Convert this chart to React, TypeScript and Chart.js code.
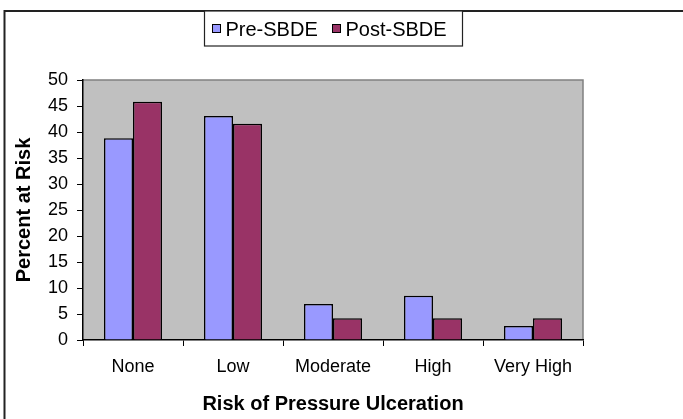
import React, { useEffect, useRef } from "react";
import { Chart, registerables } from "chart.js";

Chart.register(...registerables);

const categories = ["None", "Low", "Moderate", "High", "Very High"];
const preSBDE = [38.8, 43.1, 6.9, 8.5, 2.7];
const postSBDE = [45.8, 41.6, 4.2, 4.2, 4.2];
const seriesNames = ["Pre-SBDE", "Post-SBDE"];
const seriesColors = ["#9999FF", "#993366"];
const yTitle = "Percent at Risk";
const xTitle = "Risk of Pressure Ulceration";
const FONT = "'Liberation Sans', Arial, sans-serif";

const plotBgPlugin = {
  id: "plotBg",
  beforeDraw(chart: any) {
    const { ctx, chartArea } = chart;
    const { left, top, right, bottom } = chartArea;
    ctx.save();
    ctx.fillStyle = "#C0C0C0";
    ctx.fillRect(left, top, right - left, bottom - top);
    ctx.strokeStyle = "#808080";
    ctx.lineWidth = 1.5;
    ctx.beginPath();
    ctx.moveTo(left, top);
    ctx.lineTo(right, top);
    ctx.lineTo(right, bottom);
    ctx.stroke();
    ctx.restore();
  },
};

const frameLegendPlugin = {
  id: "frameLegend",
  afterDraw(chart: any) {
    const { ctx, width, height } = chart;
    ctx.save();
    // outer frame
    ctx.strokeStyle = "#222";
    ctx.lineWidth = 2;
    ctx.beginPath();
    ctx.moveTo(4.5, height + 2);
    ctx.lineTo(4.5, 11);
    ctx.lineTo(width + 2, 11);
    ctx.stroke();
    // legend box
    const bx = 204.5, by = 11, bw = 258, bh = 35;
    ctx.fillStyle = "#fff";
    ctx.fillRect(bx, by, bw, bh);
    ctx.strokeStyle = "#222";
    ctx.lineWidth = 1.2;
    ctx.strokeRect(bx, by, bw, bh);
    ctx.font = `20px ${FONT}`;
    ctx.textBaseline = "alphabetic";
    ctx.textAlign = "left";
    const ds = chart.data.datasets;
    const swX = [212.5, 332.5];
    ds.forEach((d: any, i: number) => {
      ctx.fillStyle = d.backgroundColor;
      ctx.fillRect(swX[i], 24.5, 8, 8);
      ctx.strokeStyle = "#000";
      ctx.lineWidth = 1;
      ctx.strokeRect(swX[i], 24.5, 8, 8);
      ctx.fillStyle = "#000";
      ctx.fillText(d.label, swX[i] + 13, 35.5);
    });
    ctx.restore();
  },
};

export default function App() {
  const ref = useRef<HTMLCanvasElement | null>(null);
  useEffect(() => {
    if (!ref.current) return;
    const chart = new Chart(ref.current, {
      type: "bar",
      data: {
        labels: categories,
        datasets: [
          {
            label: seriesNames[0],
            data: preSBDE,
            backgroundColor: seriesColors[0],
            borderColor: "#000",
            borderWidth: 1.5,
            barPercentage: 1,
            categoryPercentage: 0.58,
          },
          {
            label: seriesNames[1],
            data: postSBDE,
            backgroundColor: seriesColors[1],
            borderColor: "#000",
            borderWidth: 1.5,
            barPercentage: 1,
            categoryPercentage: 0.58,
          },
        ],
      },
      options: {
        responsive: false,
        animation: false,
        devicePixelRatio: 1,
        layout: { padding: { top: 80, right: 100, left: 0, bottom: 0 } },
        plugins: {
          legend: { display: false },
          tooltip: { enabled: false },
        },
        scales: {
          x: {
            offset: true,
            grid: {
              offset: true,
              drawOnChartArea: false,
              drawTicks: true,
              tickLength: 6,
              color: "#000",
            },
            border: { color: "#000", width: 1.5 },
            ticks: {
              color: "#000",
              font: { family: FONT, size: 18 },
              padding: 10,
              maxRotation: 0,
            },
            title: {
              display: true,
              text: xTitle,
              color: "#000",
              font: { family: FONT, size: 20, weight: "bold" },
              padding: { top: 0, bottom: 3 },
            },
            afterFit(scale: any) {
              scale.height = 79;
            },
          },
          y: {
            min: 0,
            max: 50,
            ticks: {
              stepSize: 5,
              color: "#000",
              font: { family: FONT, size: 18 },
              padding: 9,
            },
            grid: {
              drawOnChartArea: false,
              drawTicks: true,
              tickLength: 6,
              color: "#000",
            },
            border: { color: "#000", width: 1.5 },
            title: {
              display: true,
              text: yTitle,
              color: "#000",
              font: { family: FONT, size: 20, weight: "bold" },
              padding: { top: 12, bottom: 0 },
            },
            afterFit(scale: any) {
              scale.width = 83;
            },
          },
        },
      },
      plugins: [plotBgPlugin, frameLegendPlugin],
    });
    return () => chart.destroy();
  }, []);
  return (
    <div style={{ position: "absolute", left: 0, top: 0, width: 683, height: 419, background: "#fff" }}>
      <canvas ref={ref} width={683} height={419} style={{ display: "block" }} />
    </div>
  );
}
